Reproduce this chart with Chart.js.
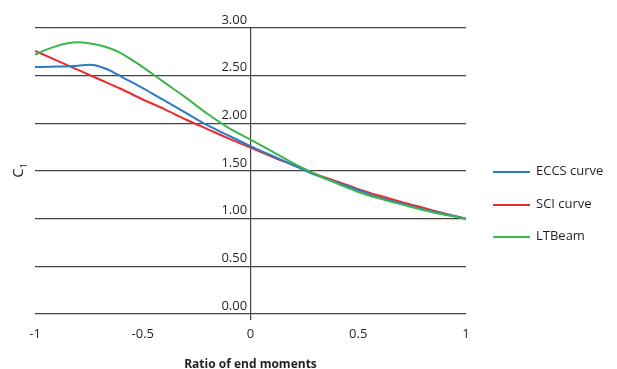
<!DOCTYPE html>
<html>
<head>
<meta charset="utf-8">
<script src="https://cdn.jsdelivr.net/npm/chart.js@4"></script>
<style>
    html, body { margin: 0; padding: 0; background: #fff; overflow: hidden; }
    #wrap { position: relative; width: 617px; height: 369px; overflow: hidden; font-family: 'Open Sans', sans-serif; color: #231f20; }
    #chart { position: absolute; left: 0; top: 0; }
    #ylabel { position: absolute; left: 13px; top: 160px; transform: rotate(-90deg); transform-origin: center; font-size: 15px; line-height: 15px; }
    #ylabel sub { font-size: 9px; }
    .legend { position: absolute; left: 493px; font-size: 13px; }
    .legend span.sw { display: inline-block; width: 37px; height: 2px; vertical-align: middle; margin-right: 6px; }
</style>
</head>
<body>
<div id="wrap">
    <canvas id="chart" width="617" height="372"></canvas>
    <div id="ylabel">C<sub>1</sub></div>
    <div class="legend" style="top: 161px;"><span class="sw" style="background:#2b7bc2"></span>ECCS curve</div>
    <div class="legend" style="top: 194px;"><span class="sw" style="background:#ec2b2e"></span>SCI curve</div>
    <div class="legend" style="top: 226px;"><span class="sw" style="background:#3db54b"></span>LTBeam</div>
</div>
<script>
// ratio of end moments (psi)
const eccsX = [-1, -0.9, -0.8, -0.75, -0.72, -0.68, -0.64, -0.6, -0.5, -0.4, -0.3, -0.2, -0.1, 0, 0.1, 0.2, 0.3, 0.4, 0.5, 0.6, 0.7, 0.8, 0.9, 1];
const eccsY = [2.59, 2.595, 2.605, 2.615, 2.61, 2.58, 2.54, 2.49, 2.37, 2.24, 2.11, 1.98, 1.87, 1.76, 1.66, 1.56, 1.46, 1.38, 1.30, 1.22, 1.16, 1.10, 1.05, 1.0];

const sciX = [-1, -0.9, -0.8, -0.7, -0.6, -0.5, -0.4, -0.3, -0.2, -0.1, 0, 0.1, 0.2, 0.3, 0.4, 0.5, 0.6, 0.7, 0.8, 0.9, 1];
const sciY = [2.76, 2.66, 2.56, 2.46, 2.36, 2.25, 2.15, 2.04, 1.94, 1.84, 1.745, 1.65, 1.56, 1.47, 1.39, 1.31, 1.24, 1.175, 1.115, 1.055, 1.0];

const ltbX = [-1, -0.95, -0.9, -0.85, -0.8, -0.75, -0.7, -0.65, -0.6, -0.55, -0.5, -0.45, -0.4, -0.35, -0.3, -0.2, -0.1, 0, 0.1, 0.2, 0.3, 0.4, 0.5, 0.6, 0.7, 0.8, 0.9, 1];
const ltbY = [2.72, 2.77, 2.81, 2.84, 2.85, 2.84, 2.82, 2.785, 2.735, 2.665, 2.59, 2.51, 2.43, 2.35, 2.27, 2.10, 1.95, 1.83, 1.705, 1.58, 1.47, 1.37, 1.28, 1.21, 1.15, 1.09, 1.04, 1.0];

const xTicks = [-1, -0.5, 0, 0.5, 1];
const yTicks = [0, 0.5, 1, 1.5, 2, 2.5, 3];

const pts = (xs, ys) => xs.map((x, i) => ({ x: x, y: ys[i] }));

const lineStyle = (label, data, color) => ({
    label: label,
    data: data,
    borderColor: color,
    backgroundColor: color,
    borderWidth: 2,
    pointRadius: 0,
    cubicInterpolationMode: 'monotone',
    fill: false
});

Chart.defaults.font.family = "'Open Sans', sans-serif";
Chart.defaults.color = '#231f20';

new Chart(document.getElementById('chart'), {
    type: 'line',
    data: {
        datasets: [
            lineStyle('LTBeam', pts(ltbX, ltbY), '#3db54b'),
            lineStyle('ECCS curve', pts(eccsX, eccsY), '#2b7bc2'),
            lineStyle('SCI curve', pts(sciX, sciY), '#ec2b2e')
        ]
    },
    options: {
        responsive: false,
        animation: false,
        layout: { padding: { left: 35, right: 151, top: 28, bottom: 0 } },
        plugins: { legend: { display: false }, tooltip: { enabled: false } },
        scales: {
            x: {
                type: 'linear',
                min: -1,
                max: 1,
                afterBuildTicks: axis => { axis.ticks = xTicks.map(v => ({ value: v })); },
                ticks: { font: { size: 13 }, padding: 6, callback: v => String(v) },
                grid: {
                    color: ctx => (ctx.tick && ctx.tick.value === 0) ? '#444' : 'rgba(0,0,0,0)',
                    lineWidth: 1.2,
                    tickLength: 6
                },
                border: { display: false },
                title: {
                    display: true,
                    text: 'Ratio of end moments',
                    font: { size: 12, weight: 'bold' },
                    padding: { top: 10, bottom: 0 }
                }
            },
            y: {
                axis: 'y',
                type: 'linear',
                position: { x: 0 },
                min: 0,
                max: 3,
                afterBuildTicks: axis => { axis.ticks = yTicks.map(v => ({ value: v })); },
                ticks: {
                    font: { size: 13 },
                    labelOffset: -8,
                    // padding is ignored for a positioned axis, a trailing space keeps labels off the line
                    callback: v => v.toFixed(2) + ' '
                },
                grid: { color: '#444', lineWidth: 1.2, drawTicks: false },
                border: { display: false }
            }
        }
    }
});
</script>
</body>
</html>
